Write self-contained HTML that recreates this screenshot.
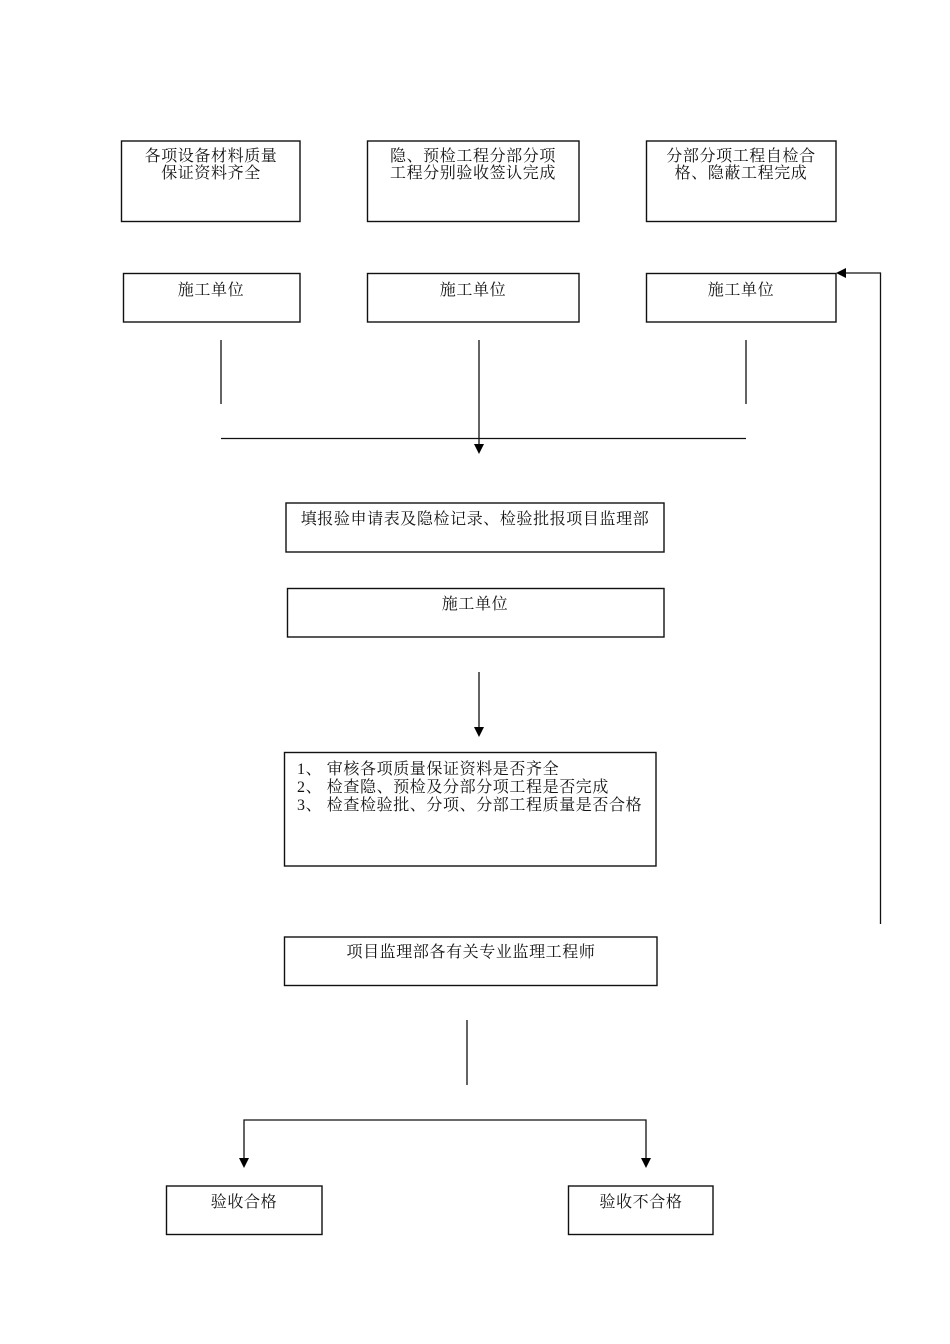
<!DOCTYPE html>
<html>
<head>
<meta charset="utf-8">
<style>
  html, body { margin: 0; padding: 0; background: #fff; }
  svg { display: block; }
  text { font-family: "Liberation Serif", "Noto Serif CJK SC", "Noto Sans CJK SC", serif; font-size: 16px; fill: #111; letter-spacing: 0.6px; }
</style>
</head>
<body>
<svg width="950" height="1344" viewBox="0 0 950 1344" xmlns="http://www.w3.org/2000/svg">
  <g fill="none" stroke="#111" stroke-width="1.4">
    <!-- top row boxes -->
    <rect x="121.5" y="141" width="178.5" height="80.5"/>
    <rect x="367.5" y="141" width="211.5" height="80.5"/>
    <rect x="646.5" y="141" width="189.5" height="80.5"/>
    <!-- second row -->
    <rect x="123.5" y="273.5" width="176.5" height="48.5"/>
    <rect x="367.5" y="273.5" width="211.5" height="48.5"/>
    <rect x="646.5" y="273.5" width="189.5" height="48.5"/>
    <!-- middle boxes -->
    <rect x="286" y="503" width="378" height="49"/>
    <rect x="287.5" y="588.5" width="376.5" height="48.5"/>
    <rect x="284.5" y="752.5" width="371.5" height="113.5"/>
    <rect x="284.5" y="937" width="372.5" height="48.5"/>
    <!-- bottom boxes -->
    <rect x="166.5" y="1186" width="155.5" height="48.5"/>
    <rect x="568.5" y="1186" width="144.5" height="48.5"/>
  </g>

  <g stroke="#111" stroke-width="1.3" fill="none">
    <line x1="221" y1="340" x2="221" y2="404"/>
    <line x1="746" y1="340" x2="746" y2="404"/>
    <line x1="479" y1="340" x2="479" y2="445"/>
    <line x1="221" y1="438.5" x2="746" y2="438.5"/>
    <line x1="479" y1="672" x2="479" y2="729"/>
    <line x1="467" y1="1020" x2="467" y2="1085"/>
    <polyline points="244,1161 244,1120 646,1120 646,1161"/>
    <polyline points="880.5,924 880.5,273 845,273"/>
  </g>

  <g fill="#000" stroke="none">
    <polygon points="474,444 484,444 479,454"/>
    <polygon points="474,727 484,727 479,737"/>
    <polygon points="239,1158 249,1158 244,1168"/>
    <polygon points="641,1158 651,1158 646,1168"/>
    <polygon points="846,268 846,278 836,273"/>
  </g>

  <g text-anchor="middle">
    <text x="211" y="161">各项设备材料质量</text>
    <text x="211" y="178">保证资料齐全</text>
    <text x="473" y="161">隐、预检工程分部分项</text>
    <text x="473" y="178">工程分别验收签认完成</text>
    <text x="741" y="161">分部分项工程自检合</text>
    <text x="741" y="178">格、隐蔽工程完成</text>
    <text x="211" y="295">施工单位</text>
    <text x="473" y="295">施工单位</text>
    <text x="741" y="295">施工单位</text>
    <text x="475" y="524">填报验申请表及隐检记录、检验批报项目监理部</text>
    <text x="475" y="609">施工单位</text>
    <text x="471" y="957">项目监理部各有关专业监理工程师</text>
    <text x="244" y="1207">验收合格</text>
    <text x="641" y="1207">验收不合格</text>
  </g>
  <g text-anchor="start">
    <text x="297" y="774">1、 审核各项质量保证资料是否齐全</text>
    <text x="297" y="792">2、 检查隐、预检及分部分项工程是否完成</text>
    <text x="297" y="810">3、 检查检验批、分项、分部工程质量是否合格</text>
  </g>
</svg>
</body>
</html>
